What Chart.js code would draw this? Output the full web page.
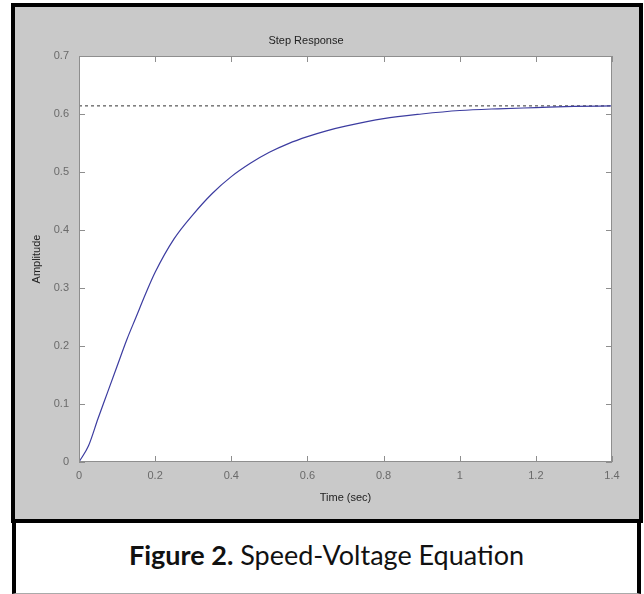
<!DOCTYPE html>
<html>
<head>
<meta charset="utf-8">
<script src="https://cdn.jsdelivr.net/npm/chart.js@4.4.1/dist/chart.umd.min.js"></script>
<style>
  html, body { margin: 0; padding: 0; background: #fff; }
  body { width: 644px; height: 594px; position: relative; overflow: hidden; }
  #frame {
    position: absolute; left: 11px; top: 3px; width: 624px; height: 512px;
    background: #c9c9c9; border: 4px solid #000;
  }
  #captionBox {
    position: absolute; left: 12px; top: 523px; width: 621px; height: 70px;
    border-left: 4px solid #000; border-right: 4px solid #000; border-bottom: 1px solid #aaa;
    background: #fff;
  }
  #caption {
    position: absolute; left: 0; right: 0; top: 15px; text-align: center;
    font-family: "Lato", sans-serif; font-size: 27px; color: #111; white-space: nowrap;
  }
  #chartWrap { position: absolute; left: 0; top: 0; width: 644px; height: 594px; }
</style>
</head>
<body>
<div id="frame"></div>
<div id="captionBox"><div id="caption"><b>Figure 2.</b> Speed-Voltage Equation</div></div>
<div id="chartWrap"><canvas id="stepChart" width="644" height="594"></canvas></div>

<script>
// valores (tiempo en seg, amplitud)
const timeValues = [0, 0.025, 0.05, 0.075, 0.1, 0.125, 0.15, 0.175, 0.2, 0.25, 0.3, 0.35, 0.4, 0.45, 0.5, 0.55, 0.6, 0.65, 0.7, 0.8, 0.9, 1.0, 1.1, 1.2, 1.3, 1.4];
const ampValues  = [0, 0.028, 0.075, 0.12, 0.165, 0.21, 0.25, 0.29, 0.327, 0.385, 0.427, 0.463, 0.492, 0.515, 0.534, 0.549, 0.561, 0.571, 0.579, 0.592, 0.600, 0.606, 0.609, 0.611, 0.613, 0.614];
const steadyState = 0.614;

const xTicks = [0, 0.2, 0.4, 0.6, 0.8, 1, 1.2, 1.4];
const yTicks = [0, 0.1, 0.2, 0.3, 0.4, 0.5, 0.6, 0.7];

const fmt = v => String(+Number(v).toFixed(1));

// fondo blanco del area, caja gris y ticks hacia adentro (estilo matlab)
const matlabBox = {
  id: 'matlabBox',
  beforeDraw(chart) {
    const {ctx, chartArea: a} = chart;
    ctx.save();
    ctx.fillStyle = '#fff';
    ctx.fillRect(a.left, a.top, a.right - a.left, a.bottom - a.top);
    ctx.restore();
  },
  afterDraw(chart) {
    const {ctx, chartArea: a} = chart;
    const xs = chart.scales.x, ys = chart.scales.y;
    const len = 6;
    ctx.save();
    ctx.strokeStyle = '#8e8e8e';
    ctx.lineWidth = 1;
    ctx.strokeRect(a.left + 0.5, a.top + 0.5, a.right - a.left - 1, a.bottom - a.top - 1);
    ctx.beginPath();
    xTicks.forEach(t => {
      const px = Math.round(xs.getPixelForValue(t)) + 0.5;
      ctx.moveTo(px, a.bottom); ctx.lineTo(px, a.bottom - len);
      ctx.moveTo(px, a.top); ctx.lineTo(px, a.top + len);
    });
    yTicks.forEach(t => {
      const py = Math.round(ys.getPixelForValue(t)) + 0.5;
      ctx.moveTo(a.left, py); ctx.lineTo(a.left + len, py);
      ctx.moveTo(a.right, py); ctx.lineTo(a.right - len, py);
    });
    ctx.stroke();
    ctx.restore();
  }
};

const ctx = document.getElementById('stepChart').getContext('2d');
new Chart(ctx, {
  type: 'line',
  data: {
    datasets: [
      {
        label: 'Respuesta',
        data: timeValues.map((t, i) => ({x: t, y: ampValues[i]})),
        borderColor: '#3c3ca0',
        borderWidth: 1.2,
        pointRadius: 0,
        fill: false,
        cubicInterpolationMode: 'monotone'
      },
      {
        label: 'Final',
        data: [{x: xTicks[0], y: steadyState}, {x: xTicks[xTicks.length - 1], y: steadyState}],
        borderColor: '#333',
        borderWidth: 1,
        borderDash: [3, 3],
        pointRadius: 0,
        fill: false
      }
    ]
  },
  options: {
    responsive: false,
    animation: false,
    layout: { padding: { left: 0, top: 0, right: 32, bottom: 71 } },
    plugins: {
      legend: { display: false },
      tooltip: { enabled: false },
      title: {
        display: true,
        text: 'Step Response',
        color: '#222',
        font: { family: 'Liberation Sans', size: 11, weight: 'normal' },
        padding: { top: 34.4, bottom: 8.4 }
      }
    },
    scales: {
      x: {
        type: 'linear',
        min: 0, max: 1.4,
        afterBuildTicks: s => { s.ticks = xTicks.map(v => ({value: v})); },
        afterFit: s => { s.height = 61; },
        grid: { display: false },
        border: { display: false },
        ticks: {
          color: '#6a6a6a',
          font: { family: 'Liberation Sans', size: 11 },
          padding: -1,
          maxRotation: 0,
          callback: v => fmt(v)
        },
        title: {
          display: true,
          text: 'Time (sec)',
          color: '#222',
          font: { family: 'Liberation Sans', size: 11 },
          padding: { top: 0, bottom: 18.4 }
        }
      },
      y: {
        min: 0, max: 0.7,
        afterBuildTicks: s => { s.ticks = yTicks.map(v => ({value: v})); },
        afterFit: s => { s.width = 79; },
        grid: { display: false },
        border: { display: false },
        ticks: {
          color: '#6a6a6a',
          font: { family: 'Liberation Sans', size: 11 },
          padding: 2,
          callback: v => fmt(v)
        },
        title: {
          display: true,
          text: 'Amplitude',
          color: '#222',
          font: { family: 'Liberation Sans', size: 11 },
          padding: { top: 30, bottom: 0 }
        }
      }
    }
  },
  plugins: [matlabBox]
});
</script>
</body>
</html>
